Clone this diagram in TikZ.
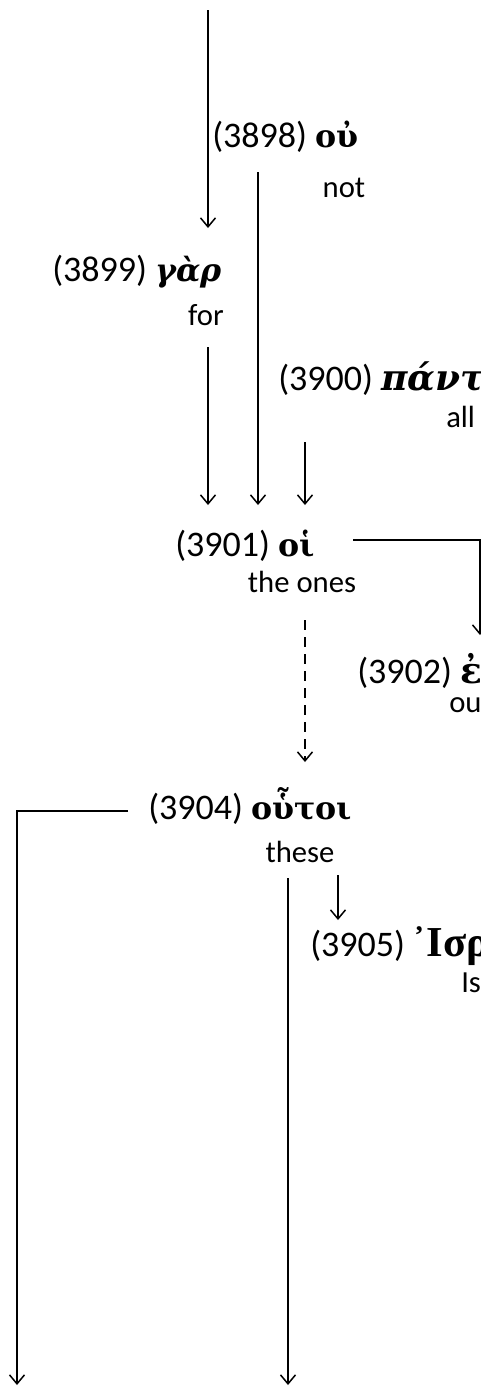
\documentclass[tikz,border=0pt]{standalone}
\usepackage{fontspec}
\setmainfont{Carlito}
\newfontfamily\gk{DejaVu Serif}[Scale=0.88]
\newfontfamily\gkw{DejaVu Serif}
\newfontfamily\gkt{Liberation Serif}
\usetikzlibrary{arrows.meta}
\tikzset{
  arr/.style={line width=1.125pt,-{Straight Barb[length=6.75pt,width=11.25pt,line width=1.125pt]}},
  lbl/.style={anchor=base west,inner sep=0pt,font=\fontsize{27}{31}\selectfont},
  gls/.style={anchor=base,inner sep=0pt,font=\fontsize{23}{27}\selectfont},
}
\begin{document}
\begin{tikzpicture}[x=0.75pt,y=-0.75pt]
\useasboundingbox (0,0) rectangle (481,1390);
\clip (0,0) rectangle (481,1390);
% words
\node[lbl] (n3898) at (212,147) {(3898) {\gk\bfseries οὐ}};
\node[gls] (g3898) at (344,197) {not};
\node[lbl] (n3899) at (52,281) {(3899) {\gk\bfseries\itshape γὰρ}};
\node[gls] (g3899) at (206,325) {for};
\node[lbl] (n3900) at (278,390) {(3900) {\gkw\bfseries\itshape πάντες}};
\node[gls,anchor=base west] (g3900) at (446,427) {all};
\node[lbl] (n3901) at (175,556) {(3901) {\gk\bfseries οἱ}};
\node[gls] (g3901) at (302,592) {the ones};
\node[lbl] (n3902) at (357,683) {(3902) {\gkw\bfseries ἐξ}};
\node[gls,anchor=base west] (g3902) at (449,712) {out of};
\node[lbl] (n3904) at (148,819) {(3904) {\gk\bfseries οὗτοι}};
\node[gls] (g3904) at (300,862) {these};
\node[lbl] (n3905) at (310,956) {(3905){\gkt\fontsize{32}{36}\selectfont\bfseries\,᾿Ισραήλ}};
\node[gls,anchor=base west] (g3905) at (461,992) {Israel};
% connector ends
\coordinate (a0) at (208,10);
\coordinate (a1) at (208,228);
\coordinate (b0) at (258,172);
\coordinate (b1) at (258,505);
\coordinate (c0) at (208,347);
\coordinate (c1) at (208,505);
\coordinate (d0) at (305,442);
\coordinate (d1) at (305,505);
\coordinate (e0) at (353,540);
\coordinate (e1) at (480,540);
\coordinate (e2) at (480,635);
\coordinate (f0) at (305,620);
\coordinate (f1) at (305,762);
\coordinate (h0) at (128,811);
\coordinate (h1) at (17,811);
\coordinate (h2) at (17,1385);
\coordinate (k0) at (288,878);
\coordinate (k1) at (288,1385);
\coordinate (m0) at (338,875);
\coordinate (m1) at (338,920);
% connectors
\draw[arr] (a0) -- (a1);
\draw[arr] (b0) -- (b1);
\draw[arr] (c0) -- (c1);
\draw[arr] (d0) -- (d1);
\draw[arr] (e0) -- (e1) -- (e2);
\draw[arr,dash pattern=on 7.5pt off 5.25pt] (f0) -- (f1);
\draw[arr] (h0) -- (h1) -- (h2);
\draw[arr] (k0) -- (k1);
\draw[arr] (m0) -- (m1);
\end{tikzpicture}
\end{document}
